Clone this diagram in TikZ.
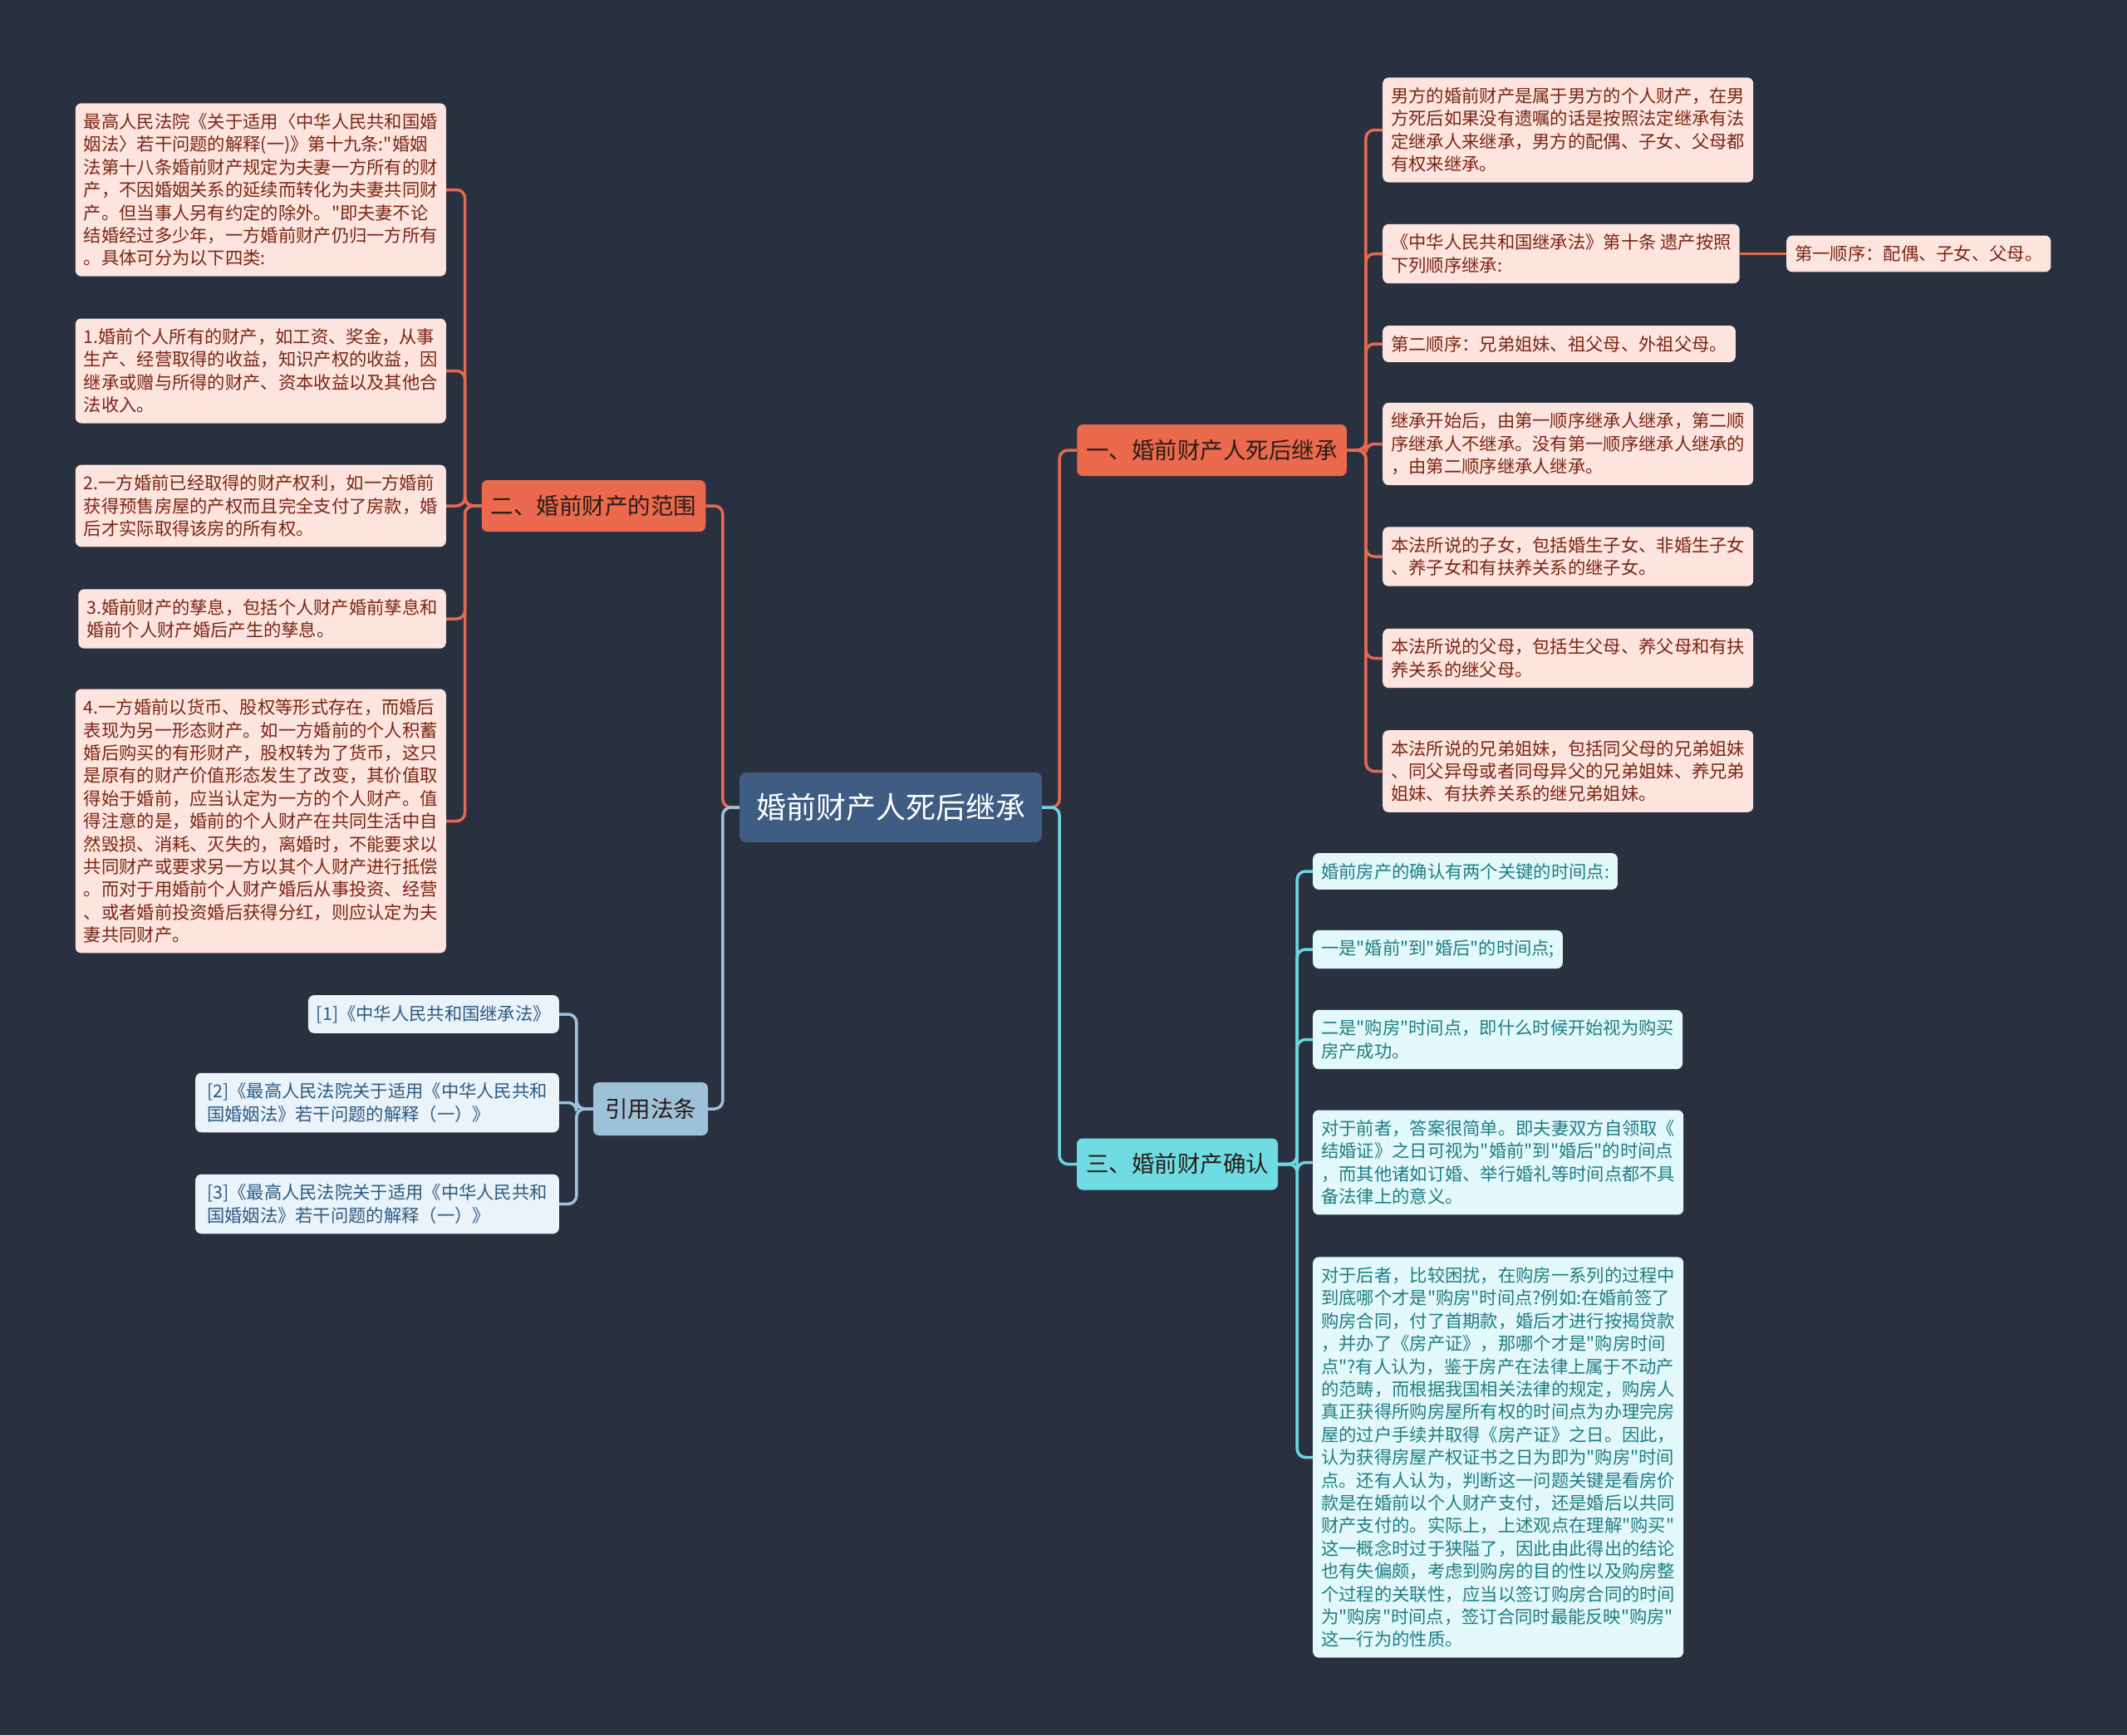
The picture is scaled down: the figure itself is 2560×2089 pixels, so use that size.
\documentclass[tikz,border=0pt]{standalone}
\usepackage{fontspec}
\setmainfont{Noto Sans CJK SC}[Ligatures=TeXOff]
\usepackage{xcolor}
\definecolor{bgcol}{HTML}{293141}
\definecolor{rootfill}{HTML}{3F5C83}
\definecolor{redfill}{HTML}{EB6A4D}
\definecolor{redline}{HTML}{E5694E}
\definecolor{redleaf}{HTML}{FDE4DE}
\definecolor{redtext}{HTML}{7A2614}
\definecolor{cyanfill}{HTML}{6FDCE4}
\definecolor{cyanline}{HTML}{6DD6E0}
\definecolor{cyanleaf}{HTML}{E2F8FA}
\definecolor{cyantext}{HTML}{1F7D85}
\definecolor{bluefill}{HTML}{9EC1DA}
\definecolor{blueline}{HTML}{9CC3DB}
\definecolor{blueleaf}{HTML}{EAF3F9}
\definecolor{bluetext}{HTML}{2C5A84}
\definecolor{darktext}{HTML}{2A1C18}

\begin{document}
\begin{tikzpicture}[
    x=1pt, y=-1pt,
    centre/.style={fill=rootfill, rounded corners=8pt, text=white,
        font=\fontsize{36}{40}\selectfont, inner xsep=20pt, minimum height=84pt},
    topic/.style={rounded corners=7pt, text=darktext,
        font=\fontsize{27.5}{32}\selectfont, inner xsep=11pt, minimum height=62pt},
    point/.style={rounded corners=7pt, align=left,
        font=\fontsize{21.3}{27.4}\selectfont, inner xsep=10pt, inner ysep=12pt},
    redpoint/.style={point, fill=redleaf, text=redtext},
    cyanpoint/.style={point, fill=cyanleaf, text=cyantext},
    bluepoint/.style={point, fill=blueleaf, text=bluetext},
    link/.style={line width=3.5pt, rounded corners=10pt},
]
    \fill[bgcol] (0,0) rectangle (2560,2089);
    \useasboundingbox (0,0) rectangle (2560,2089);

    \node[centre] (root) at (1072,972) {婚前财产人死后继承};
    \node[topic, fill=redfill] (property) at (714.5,609) {二、婚前财产的范围};
    \node[topic, fill=bluefill, inner xsep=14pt, minimum height=64pt] (cite) at (783,1335) {引用法条};
    \node[topic, fill=redfill] (death) at (1458.5,542) {一、婚前财产人死后继承};
    \node[topic, fill=cyanfill] (confirm) at (1417,1401.5) {三、婚前财产确认};

    \node[redpoint, anchor=east] (prop0) at (537,228.5)
        {最高人民法院《关于适用〈中华人民共和国婚\\
         姻法〉若干问题的解释(一)》第十九条:"婚姻\\
         法第十八条婚前财产规定为夫妻一方所有的财\\
         产，不因婚姻关系的延续而转化为夫妻共同财\\
         产。但当事人另有约定的除外。"即夫妻不论\\
         结婚经过多少年，一方婚前财产仍归一方所有\\
         。具体可分为以下四类:};
    \node[redpoint, anchor=east] (prop1) at (537,446.5)
        {1.婚前个人所有的财产，如工资、奖金，从事\\
         生产、经营取得的收益，知识产权的收益，因\\
         继承或赠与所得的财产、资本收益以及其他合\\
         法收入。};
    \node[redpoint, anchor=east] (prop2) at (537,609)
        {2.一方婚前已经取得的财产权利，如一方婚前\\
         获得预售房屋的产权而且完全支付了房款，婚\\
         后才实际取得该房的所有权。};
    \node[redpoint, anchor=east] (prop3) at (537,745)
        {3.婚前财产的孳息，包括个人财产婚前孳息和\\
         婚前个人财产婚后产生的孳息。};
    \node[redpoint, anchor=east] (prop4) at (537,988.5)
        {4.一方婚前以货币、股权等形式存在，而婚后\\
         表现为另一形态财产。如一方婚前的个人积蓄\\
         婚后购买的有形财产，股权转为了货币，这只\\
         是原有的财产价值形态发生了改变，其价值取\\
         得始于婚前，应当认定为一方的个人财产。值\\
         得注意的是，婚前的个人财产在共同生活中自\\
         然毁损、消耗、灭失的，离婚时，不能要求以\\
         共同财产或要求另一方以其个人财产进行抵偿\\
         。而对于用婚前个人财产婚后从事投资、经营\\
         、或者婚前投资婚后获得分红，则应认定为夫\\
         妻共同财产。};

    \node[bluepoint, anchor=east] (law1) at (673,1221) {[1]《中华人民共和国继承法》};
    \node[bluepoint, anchor=east, inner xsep=14pt] (law2) at (673,1327.5)
        {[2]《最高人民法院关于适用《中华人民共和\\
         国婚姻法》若干问题的解释（一）》};
    \node[bluepoint, anchor=east, inner xsep=14pt] (law3) at (673,1449.5)
        {[3]《最高人民法院关于适用《中华人民共和\\
         国婚姻法》若干问题的解释（一）》};

    \node[redpoint, anchor=west] (inherit1) at (1664,156.5)
        {男方的婚前财产是属于男方的个人财产，在男\\
         方死后如果没有遗嘱的话是按照法定继承有法\\
         定继承人来继承，男方的配偶、子女、父母都\\
         有权来继承。};
    \node[redpoint, anchor=west] (inherit2) at (1664,305.5)
        {《中华人民共和国继承法》第十条 遗产按照\\
         下列顺序继承:};
    \node[redpoint, anchor=west] (order1) at (2150,305.5) {第一顺序：配偶、子女、父母。};
    \node[redpoint, anchor=west] (inherit3) at (1664,414) {第二顺序：兄弟姐妹、祖父母、外祖父母。};
    \node[redpoint, anchor=west] (inherit4) at (1664,534.5)
        {继承开始后，由第一顺序继承人继承，第二顺\\
         序继承人不继承。没有第一顺序继承人继承的\\
         ，由第二顺序继承人继承。};
    \node[redpoint, anchor=west] (inherit5) at (1664,670)
        {本法所说的子女，包括婚生子女、非婚生子女\\
         、养子女和有扶养关系的继子女。};
    \node[redpoint, anchor=west] (inherit6) at (1664,792.5)
        {本法所说的父母，包括生父母、养父母和有扶\\
         养关系的继父母。};
    \node[redpoint, anchor=west] (inherit7) at (1664,928.5)
        {本法所说的兄弟姐妹，包括同父母的兄弟姐妹\\
         、同父异母或者同母异父的兄弟姐妹、养兄弟\\
         姐妹、有扶养关系的继兄弟姐妹。};

    \node[cyanpoint, anchor=west] (house1) at (1580,1049) {婚前房产的确认有两个关键的时间点:};
    \node[cyanpoint, anchor=west] (house2) at (1580,1143) {一是"婚前"到"婚后"的时间点;};
    \node[cyanpoint, anchor=west] (house3) at (1580,1251.5)
        {二是"购房"时间点，即什么时候开始视为购买\\
         房产成功。};
    \node[cyanpoint, anchor=west] (house4) at (1580,1399.5)
        {对于前者，答案很简单。即夫妻双方自领取《\\
         结婚证》之日可视为"婚前"到"婚后"的时间点\\
         ，而其他诸如订婚、举行婚礼等时间点都不具\\
         备法律上的意义。};
    \node[cyanpoint, anchor=west] (house5) at (1580,1754.5)
        {对于后者，比较困扰，在购房一系列的过程中\\
         到底哪个才是"购房"时间点?例如:在婚前签了\\
         购房合同，付了首期款，婚后才进行按揭贷款\\
         ，并办了《房产证》，那哪个才是"购房时间\\
         点"?有人认为，鉴于房产在法律上属于不动产\\
         的范畴，而根据我国相关法律的规定，购房人\\
         真正获得所购房屋所有权的时间点为办理完房\\
         屋的过户手续并取得《房产证》之日。因此，\\
         认为获得房屋产权证书之日为即为"购房"时间\\
         点。还有人认为，判断这一问题关键是看房价\\
         款是在婚前以个人财产支付，还是婚后以共同\\
         财产支付的。实际上，上述观点在理解"购买"\\
         这一概念时过于狭隘了，因此由此得出的结论\\
         也有失偏颇，考虑到购房的目的性以及购房整\\
         个过程的关联性，应当以签订购房合同的时间\\
         为"购房"时间点，签订合同时最能反映"购房"\\
         这一行为的性质。};

    \draw[link, redline] (root.west) -- ++(-20,0) |- (property.east);
    \draw[link, blueline] (root.west) -- ++(-20,0) |- (cite.east);
    \draw[link, redline] (root.east) -- ++(21,0) |- (death.west);
    \draw[link, cyanline] (root.east) -- ++(21,0) |- (confirm.west);
    \foreach \leaf in {prop0,prop1,prop2,prop3,prop4}
        \draw[link, redline] (property.west) -- ++(-20,0) |- (\leaf.east);
    \foreach \leaf in {law1,law2,law3}
        \draw[link, blueline] (cite.west) -- ++(-20,0) |- (\leaf.east);
    \foreach \leaf in {inherit1,inherit2,inherit3,inherit4,inherit5,inherit6,inherit7}
        \draw[link, redline] (death.east) -- ++(23,0) |- (\leaf.west);
    \foreach \leaf in {house1,house2,house3,house4,house5}
        \draw[link, cyanline] (confirm.east) -- ++(23,0) |- (\leaf.west);
    \draw[link, redline] (inherit2.east) -- (order1.west);
\end{tikzpicture}
\end{document}
